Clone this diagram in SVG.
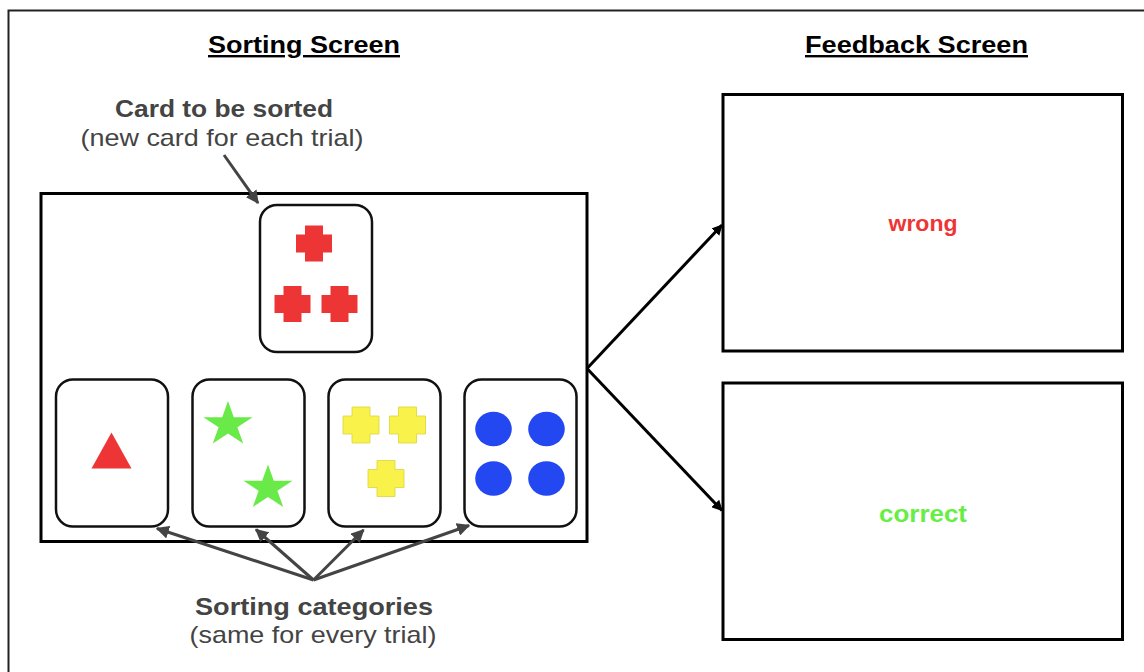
<svg xmlns="http://www.w3.org/2000/svg" width="1144" height="672" viewBox="0 0 1144 672">
  <style>
    .title { font-family: "Liberation Sans", Arial, sans-serif; font-weight: bold; font-size: 24px; fill: #000; text-decoration: underline; }
    .lbl-b { font-family: "Liberation Sans", Arial, sans-serif; font-weight: bold; font-size: 24px; fill: #444; }
    .lbl { font-family: "Liberation Sans", Arial, sans-serif; font-size: 24px; fill: #444; }
    .card { fill: #fff; stroke: #111; stroke-width: 2.5; }
    .screen { fill: #fff; stroke: #000; stroke-width: 3; }
    .pointer { stroke: #444; stroke-width: 3; fill: none; marker-end: url(#grayHead); }
    .flow { stroke: #000; stroke-width: 3; fill: none; marker-end: url(#blackHead); }
    .red { fill: #ee3535; }
    .yellow { fill: #f8f24a; stroke: #ddd43c; stroke-width: 0.8; }
    .green { fill: #6aea48; }
    .blue { fill: #2347f0; }
  </style>
  <defs>
    <marker id="grayHead" viewBox="0 0 10 10" refX="9" refY="5" markerWidth="4.4" markerHeight="4.4" orient="auto" markerUnits="strokeWidth">
      <path d="M0,0 L10,5 L0,10 z" fill="#444"/>
    </marker>
    <marker id="blackHead" viewBox="0 0 10 10" refX="9" refY="5" markerWidth="3.6" markerHeight="3.6" orient="auto" markerUnits="strokeWidth">
      <path d="M0,0 L10,5 L0,10 z" fill="#000"/>
    </marker>
    <path id="cross" d="M-9,-18 h18 v9 h9 v18 h-9 v9 h-18 v-9 h-9 v-18 h9 z"/>
    <path id="star" d="M0,-23.5 L5.8,-7.26 L24.6,-7.26 L9.4,2.77 L15.2,19.01 L0,8.98 L-15.2,19.01 L-9.4,2.77 L-24.6,-7.26 L-5.8,-7.26 z"/>
  </defs>

  <rect width="1144" height="672" fill="#fff"/>
  <!-- outer frame -->
  <path d="M8.5,680 V10.5 H1150" fill="none" stroke="#222" stroke-width="2"/>

  <!-- headings -->
  <text class="title" x="304" y="53" text-anchor="middle" textLength="192" lengthAdjust="spacingAndGlyphs">Sorting Screen</text>
  <text class="title" x="916.5" y="53" text-anchor="middle" textLength="223" lengthAdjust="spacingAndGlyphs">Feedback Screen</text>

  <!-- sorting screen -->
  <g id="sorting-screen">
    <rect class="screen" x="41" y="193.5" width="546" height="348"/>
  </g>

  <!-- card to be sorted -->
  <g id="target-card">
    <rect class="card" x="260" y="205" width="112" height="147" rx="17"/>
    <use href="#cross" class="red" x="314" y="243.5"/>
    <use href="#cross" class="red" x="292.5" y="304"/>
    <use href="#cross" class="red" x="339.5" y="304"/>
  </g>

  <!-- category cards -->
  <g id="card-triangle">
    <rect class="card" x="56" y="379.5" width="112" height="147" rx="17"/>
    <polygon class="red" points="111.5,432.5 131.5,468.5 91.5,468.5"/>
  </g>
  <g id="card-stars">
    <rect class="card" x="192.5" y="379.5" width="112" height="147" rx="17"/>
    <use href="#star" class="green" x="228" y="424.5"/>
    <use href="#star" class="green" x="268" y="488"/>
  </g>
  <g id="card-crosses">
    <rect class="card" x="328.5" y="379.5" width="112" height="147" rx="17"/>
    <use href="#cross" class="yellow" x="361" y="425"/>
    <use href="#cross" class="yellow" x="407.5" y="425"/>
    <use href="#cross" class="yellow" x="386" y="478.5"/>
  </g>
  <g id="card-circles">
    <rect class="card" x="464.5" y="379.5" width="112" height="147" rx="17"/>
    <ellipse class="blue" cx="493.5" cy="429" rx="18.3" ry="17.3"/>
    <ellipse class="blue" cx="546.5" cy="429" rx="18.3" ry="17.3"/>
    <ellipse class="blue" cx="493.5" cy="478.5" rx="18.3" ry="17.3"/>
    <ellipse class="blue" cx="546.5" cy="478.5" rx="18.3" ry="17.3"/>
  </g>

  <!-- feedback screens -->
  <g id="feedback-wrong">
    <rect class="screen" x="723" y="94.5" width="399.5" height="256.5"/>
    <text x="923" y="231" text-anchor="middle" font-family="Liberation Sans, Arial, sans-serif" font-weight="bold" font-size="22" fill="#ee3535" textLength="69" lengthAdjust="spacingAndGlyphs">wrong</text>
  </g>
  <g id="feedback-correct">
    <rect class="screen" x="723" y="383" width="399.5" height="256.5"/>
    <text x="923" y="521.5" text-anchor="middle" font-family="Liberation Sans, Arial, sans-serif" font-weight="bold" font-size="24" fill="#66ee44" textLength="88" lengthAdjust="spacingAndGlyphs">correct</text>
  </g>

  <!-- annotations -->
  <g id="label-target">
    <text class="lbl-b" x="224" y="116.5" text-anchor="middle" textLength="218" lengthAdjust="spacingAndGlyphs">Card to be sorted</text>
    <text class="lbl" x="222" y="146" text-anchor="middle" textLength="283" lengthAdjust="spacingAndGlyphs">(new card for each trial)</text>
  </g>
  <g id="label-categories">
    <text class="lbl-b" x="314" y="615" text-anchor="middle" textLength="238" lengthAdjust="spacingAndGlyphs">Sorting categories</text>
    <text class="lbl" x="313" y="643" text-anchor="middle" textLength="247" lengthAdjust="spacingAndGlyphs">(same for every trial)</text>
  </g>

  <!-- connectors -->
  <g id="connectors">
    <line class="pointer" x1="224" y1="155" x2="258" y2="203"/>
    <line class="pointer" x1="313.5" y1="580" x2="157" y2="528.5"/>
    <line class="pointer" x1="313.5" y1="580" x2="256" y2="529.5"/>
    <line class="pointer" x1="313.5" y1="580" x2="363.5" y2="530"/>
    <line class="pointer" x1="313.5" y1="580" x2="469" y2="525.5"/>
    <line class="flow" x1="587" y1="368.5" x2="722" y2="225"/>
    <line class="flow" x1="587" y1="368.5" x2="722" y2="510.5"/>
  </g>
</svg>
